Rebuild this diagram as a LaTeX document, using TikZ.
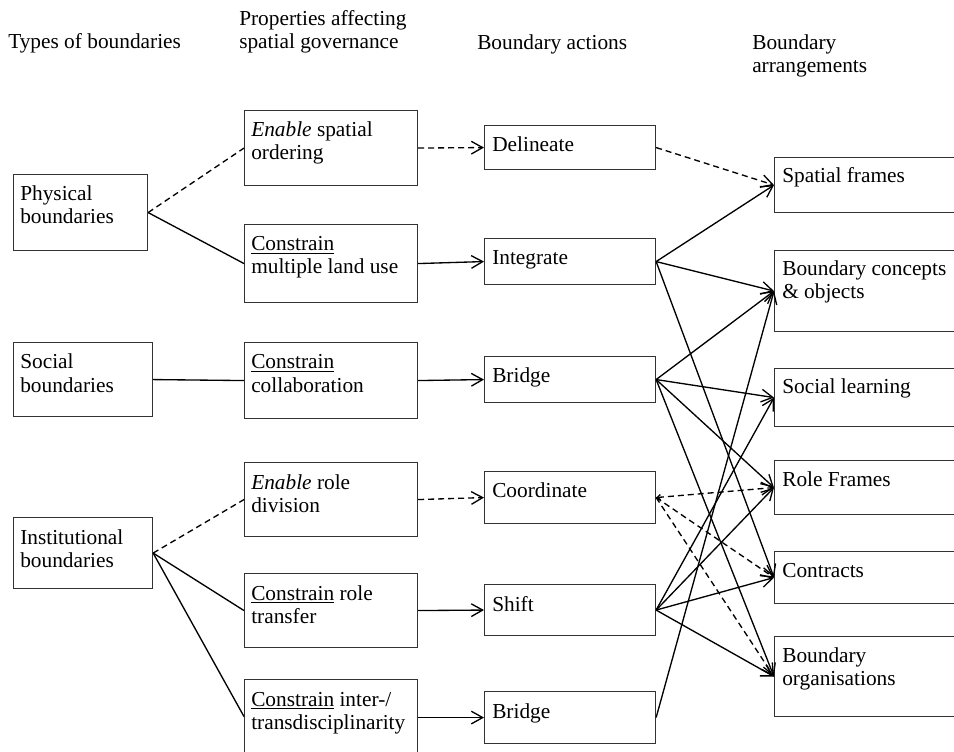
\documentclass[tikz,border=0pt]{standalone}
\usepackage{fontspec}
\setmainfont{Liberation Serif}
\usetikzlibrary{arrows.meta}
\newcommand\diagfont{\fontsize{16}{17.25}\selectfont}
% multi-line cell whose baseline is the first line
\newcommand\cellt[1]{\begin{tabular}[t]{@{}l@{}}#1\end{tabular}}
\tikzset{
  box/.style={draw=black!80, line width=0.85pt, inner sep=0pt, anchor=north west},
  wh/.style 2 args={minimum width=#1*0.75pt, minimum height=#2*0.75pt},
  txt/.style={anchor=base west, inner sep=0pt, font=\diagfont},
  link/.style={line width=1pt},
  dlink/.style={link, dash pattern=on 4.5pt off 3pt},
  tip/.style={-{Straight Barb[length=8.5pt,width=9.5pt]}},
}
\begin{document}
\begin{tikzpicture}[x=0.75pt, y=-0.75pt]
\useasboundingbox (0,0) rectangle (954,752);

% column headings
\node[txt] (h1) at (8,49) {Types of boundaries};
\node[txt] (h2) at (239,26) {\cellt{Properties affecting\\spatial governance}};
\node[txt] (h3) at (477,50) {Boundary actions};
\node[txt] (h4) at (752,50) {\cellt{Boundary\\arrangements}};

% types of boundaries
\node[box, wh={134}{76}] (phys) at (13,174) {};
\node[box, wh={139}{74}] (soc)  at (13,342) {};
\node[box, wh={139}{71}] (inst) at (13,517) {};

% properties affecting spatial governance
\node[box, wh={173}{75}] (order)   at (244,110) {};
\node[box, wh={173}{78}] (landuse) at (244,224) {};
\node[box, wh={173}{76}] (collab)  at (244,342) {};
\node[box, wh={173}{74}] (roldiv)  at (244,462) {};
\node[box, wh={173}{74}] (roltr)   at (244,573) {};
\node[box, wh={173}{80}] (inter)   at (244,679) {};

% boundary actions
\node[box, wh={171}{44}] (delin)   at (484,125) {};
\node[box, wh={171}{46}] (integ)   at (484,238) {};
\node[box, wh={171}{46}] (bridgeA) at (484,356) {};
\node[box, wh={171}{52}] (coord)   at (484,471) {};
\node[box, wh={171}{51}] (shift)   at (484,584) {};
\node[box, wh={171}{52}] (bridgeB) at (484,691) {};

% boundary arrangements
\node[box, wh={190}{55}] (spatial)  at (774,157) {};
\node[box, wh={190}{81}] (concepts) at (774,250) {};
\node[box, wh={190}{58}] (learning) at (774,368) {};
\node[box, wh={190}{54}] (rframes)  at (774,460) {};
\node[box, wh={190}{52}] (contr)    at (774,551) {};
\node[box, wh={190}{80}] (orgs)     at (774,636) {};

% box texts
\node[txt] (phys-t)    at ([shift={(7,27)}]phys.north west) {\cellt{Physical\\boundaries}};
\node[txt] (soc-t)     at ([shift={(7,27)}]soc.north west) {\cellt{Social\\boundaries}};
\node[txt] (inst-t)    at ([shift={(7,27)}]inst.north west) {\cellt{Institutional\\boundaries}};
\node[txt] (order-t)   at ([shift={(7,27)}]order.north west) {\cellt{\textit{Enable} spatial\\ordering}};
\node[txt] (landuse-t) at ([shift={(7,27)}]landuse.north west) {\cellt{\underline{Constrain}\\multiple land use}};
\node[txt] (collab-t)  at ([shift={(7,27)}]collab.north west) {\cellt{\underline{Constrain}\\collaboration}};
\node[txt] (roldiv-t)  at ([shift={(7,27)}]roldiv.north west) {\cellt{\textit{Enable} role\\division}};
\node[txt] (roltr-t)   at ([shift={(7,27)}]roltr.north west) {\cellt{\underline{Constrain} role\\transfer}};
\node[txt] (inter-t)   at ([shift={(7,27)}]inter.north west) {\cellt{\underline{Constrain} inter-/\\transdisciplinarity}};
\node[txt] (delin-t)   at ([shift={(8,27)}]delin.north west) {Delineate};
\node[txt] (integ-t)   at ([shift={(8,27)}]integ.north west) {Integrate};
\node[txt] (bridgeA-t) at ([shift={(8,27)}]bridgeA.north west) {Bridge};
\node[txt] (coord-t)   at ([shift={(8,27)}]coord.north west) {Coordinate};
\node[txt] (shift-t)   at ([shift={(8,27)}]shift.north west) {Shift};
\node[txt] (bridgeB-t) at ([shift={(8,27)}]bridgeB.north west) {Bridge};
\node[txt] (spatial-t)  at ([shift={(8,26)}]spatial.north west) {Spatial frames};
\node[txt] (concepts-t) at ([shift={(8,26)}]concepts.north west) {\cellt{Boundary concepts\\\& objects}};
\node[txt] (learning-t) at ([shift={(8,26)}]learning.north west) {Social learning};
\node[txt] (rframes-t)  at ([shift={(8,26)}]rframes.north west) {Role Frames};
\node[txt] (contr-t)    at ([shift={(8,26)}]contr.north west) {Contracts};
\node[txt] (orgs-t)     at ([shift={(8,26)}]orgs.north west) {\cellt{Boundary\\organisations}};

% types -> properties
\draw[dlink] (phys.east) -- (order.west);
\draw[link]  (phys.east) -- (landuse.west);
\draw[link]  (soc.east)  -- (collab.west);
\draw[dlink] (inst.east) -- (roldiv.west);
\draw[link]  (inst.east) -- (roltr.west);
\draw[link]  (inst.east) -- ([yshift=3*0.75pt]inter.west);

% properties -> actions
\draw[dlink, tip] (order.east)   -- (delin.west);
\draw[link, tip]  (landuse.east) -- (integ.west);
\draw[link, tip]  (collab.east)  -- (bridgeA.west);
\draw[dlink, tip] (roldiv.east)  -- (coord.west);
\draw[link, tip]  (roltr.east)   -- (shift.west);
\draw[link, tip]  ([yshift=2*0.75pt]inter.east) -- (bridgeB.west);

% actions -> arrangements
\draw[dlink, tip] (delin.east) -- (spatial.west);
\draw[link, tip] (integ.east) -- (spatial.west);
\draw[link, tip] (integ.east) -- (concepts.west);
\draw[link, tip] (integ.east) -- (contr.west);
\draw[link, tip] (bridgeA.east) -- (concepts.west);
\draw[link, tip] (bridgeA.east) -- (learning.west);
\draw[link, tip] (bridgeA.east) -- (rframes.west);
\draw[link, tip] (bridgeA.east) -- (orgs.west);
\draw[dlink, {Straight Barb[length=2.5pt,width=4pt]}-{Straight Barb[length=8.5pt,width=9.5pt]}] (coord.east) -- (rframes.west);
\draw[dlink, tip] (coord.east) -- (contr.west);
\draw[dlink, tip] (coord.east) -- (orgs.west);
\draw[link, tip] (shift.east) -- (learning.west);
\draw[link, tip] (shift.east) -- (rframes.west);
\draw[link, tip] (shift.east) -- (contr.west);
\draw[link, tip] (shift.east) -- (orgs.west);
\draw[link, tip] (bridgeB.east) -- (concepts.west);
\end{tikzpicture}
\end{document}
